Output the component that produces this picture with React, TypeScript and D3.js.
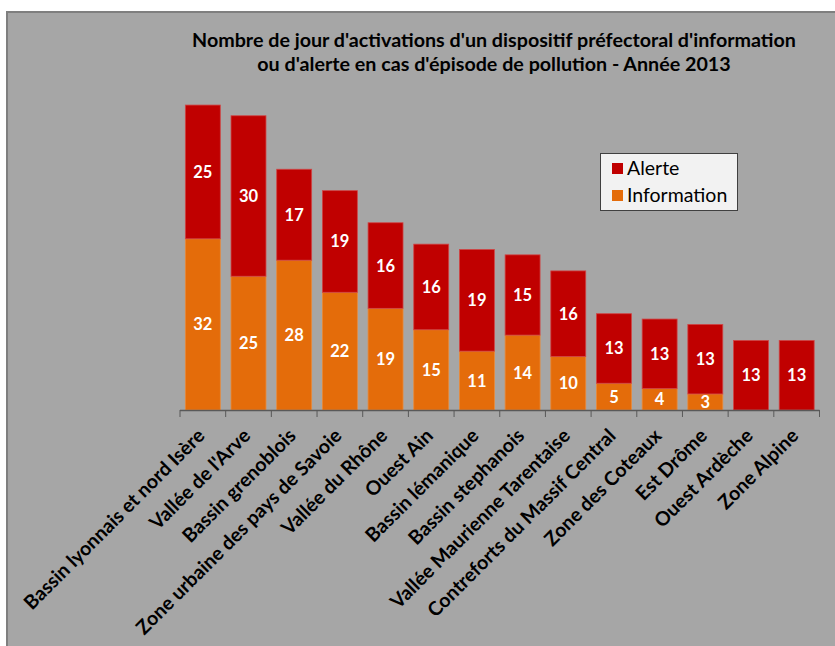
import React from "react";
import * as d3 from "d3";

const categories = [
  "Bassin lyonnais et nord Isère",
  "Vallée de l'Arve",
  "Bassin grenoblois",
  "Zone urbaine des pays de Savoie",
  "Vallée du Rhône",
  "Ouest Ain",
  "Bassin lémanique",
  "Bassin stephanois",
  "Vallée Maurienne Tarentaise",
  "Contreforts du Massif Central",
  "Zone des Coteaux",
  "Est Drôme",
  "Ouest Ardèche",
  "Zone Alpine",
];
const information = [32, 25, 28, 22, 19, 15, 11, 14, 10, 5, 4, 3, 0, 0];
const alerte = [25, 30, 17, 19, 16, 16, 19, 15, 16, 13, 13, 13, 13, 13];
const seriesNames = ["Information", "Alerte"];
const colors = ["#e46c0a", "#c00000"];
const titleLines = [
  "Nombre de jour d'activations d'un dispositif préfectoral d'information",
  "ou d'alerte en cas d'épisode de pollution  - Année 2013",
];

const W = 835;
const H = 646;
const FONT = "Lato, 'Open Sans', sans-serif";

export default function App() {
  const x = d3.scaleBand<string>().domain(categories).range([180, 819.5]).paddingInner(0.235).paddingOuter(0.117);
  const y = d3.scaleLinear().domain([0, 60]).range([410, 89]);

  const rows = categories.map((c, i) => ({ cat: c, Information: information[i], Alerte: alerte[i] }));
  const stack = d3.stack<any>().keys(seriesNames)(rows);

  const n = categories.length;
  const ticks = d3.range(n + 1).map((i) => 180 + (i * 639.5) / n);

  return (
    <svg width={W} height={H} style={{ position: "absolute", left: 0, top: 0, background: "#fff" }}>
      <rect x={7} y={12} width={W + 10} height={H + 10} fill="#a6a6a6" stroke="#7f7f7f" strokeWidth={2} />
      {titleLines.map((t, i) => (
        <text key={i} x={494} y={47 + i * 24} textAnchor="middle" fontFamily={FONT} fontWeight="bold" fontSize={19.7} fill="#000">
          {t}
        </text>
      ))}
      {stack.map((s, si) => (
        <g key={si}>
          {s.map((d: any, i: number) => {
            const v = d[1] - d[0];
            if (v <= 0) return null;
            const x0 = x(categories[i])!;
            const yt = y(d[1]);
            const yb = y(d[0]);
            return (
              <g key={i}>
                <rect x={x0} y={yt} width={x.bandwidth()} height={yb - yt} fill={colors[si]} stroke={si === 1 ? "#d04545" : "#ea8a3a"} strokeWidth={0.8} />
                <text x={x0 + x.bandwidth() / 2} y={(yt + yb) / 2 + 6} textAnchor="middle" fontFamily={FONT} fontWeight="bold" fontSize={16.5} fill="#fff">
                  {v}
                </text>
              </g>
            );
          })}
        </g>
      ))}
      <line x1={180} x2={819.5} y1={410.5} y2={410.5} stroke="#595959" strokeWidth={1.5} />
      {ticks.map((t, i) => (
        <line key={i} x1={t} x2={t} y1={410} y2={417} stroke="#595959" strokeWidth={1} />
      ))}
      {categories.map((c, i) => {
        const cx = x(c)! + x.bandwidth() / 2 + 3;
        const cy = 437;
        return (
          <text key={c} transform={`translate(${cx},${cy}) rotate(-45)`} textAnchor="end" fontFamily={FONT} fontWeight="bold" fontSize={19.5} fill="#000">
            {c}
          </text>
        );
      })}
      <g>
        <rect x={600.5} y={153.5} width={137} height={57} fill="#f2f2f2" stroke="#404040" strokeWidth={1} />
        <rect x={612} y={163} width={11} height={11} fill={colors[1]} />
        <text x={627} y={175} fontFamily={FONT} fontSize={19.5} fill="#000">Alerte</text>
        <rect x={612} y={190} width={11} height={11} fill={colors[0]} />
        <text x={627} y={202} fontFamily={FONT} fontSize={19.5} fill="#000">Information</text>
      </g>
    </svg>
  );
}
